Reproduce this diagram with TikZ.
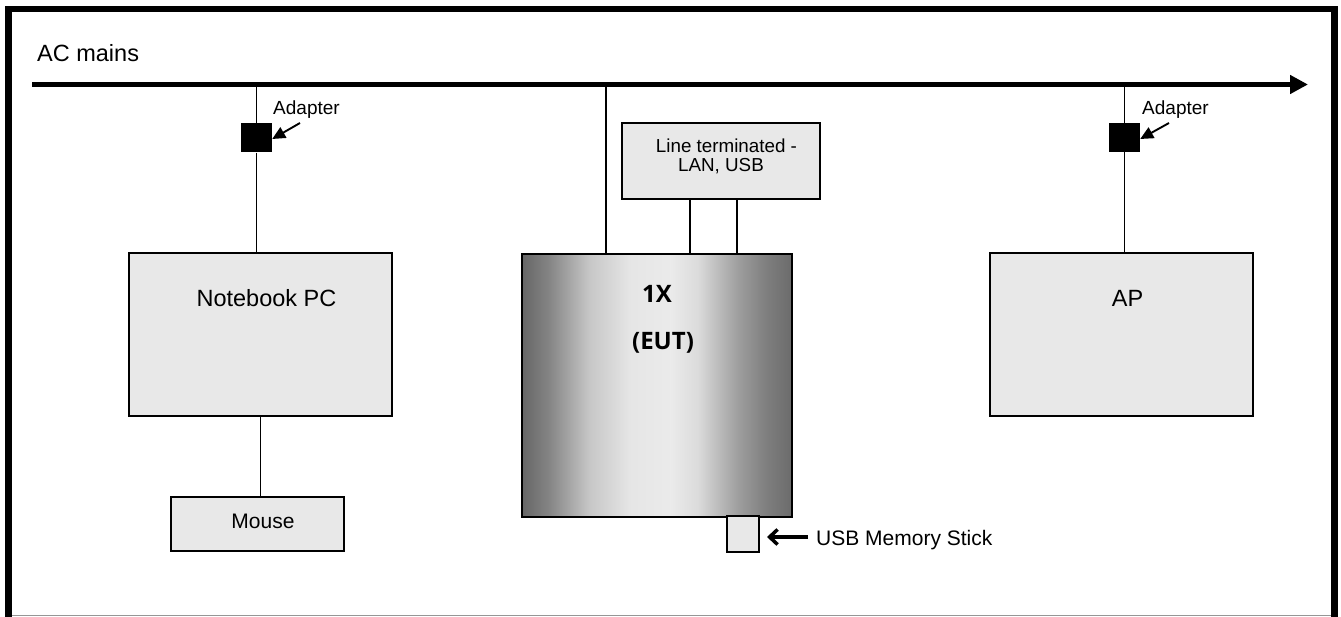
\documentclass[tikz,border=0pt]{standalone}
\usepackage{fontspec}
\setmainfont{Liberation Sans}
\newfontfamily\eutfont{Open Sans}
\usetikzlibrary{arrows.meta}
\definecolor{boxgray}{RGB}{232,232,232}
\definecolor{framegray}{RGB}{150,150,150}
\pgfdeclarehorizontalshading{eutshade}{100bp}{%
  rgb(0bp)=(0.40,0.40,0.40);
  rgb(25bp)=(0.40,0.40,0.40);
  rgb(30bp)=(0.52,0.52,0.52);
  rgb(37.5bp)=(0.78,0.78,0.78);
  rgb(45bp)=(0.90,0.90,0.90);
  rgb(52.5bp)=(0.92,0.92,0.92);
  rgb(57.5bp)=(0.86,0.86,0.86);
  rgb(65bp)=(0.62,0.62,0.62);
  rgb(70bp)=(0.50,0.50,0.50);
  rgb(75bp)=(0.42,0.42,0.42);
  rgb(100bp)=(0.42,0.42,0.42)}
\begin{document}
\begin{tikzpicture}[x=1pt,y=-1pt,
  box/.style={draw, line width=2pt, fill=boxgray, inner sep=0pt},
  eutbox/.style={draw, line width=2pt, shade, shading=eutshade, inner sep=0pt},
  wire/.style={line width=1.9pt},
  adapt/.style={fill=black, minimum width=31pt, minimum height=29pt, inner sep=0pt},
  lbl/.style={inner sep=0pt, anchor=base},
  fbig/.style={font=\fontsize{23.5}{24}\selectfont},
  fmid/.style={font=\fontsize{21}{22}\selectfont},
  fsmall/.style={font=\fontsize{19}{20}\selectfont},
  feut/.style={font=\eutfont\bfseries\fontsize{24}{24}\selectfont}]
\useasboundingbox (0,0) rectangle (1341,617);
% frame
\draw[framegray, line width=1.2pt] (8,615.8) -- (1334,615.8);
\draw[line width=6.5pt] (8.5,617) -- (8.5,9) -- (1334.5,9) -- (1334.5,617);
% boxes
\node[box, minimum width=263pt, minimum height=163pt] (pc) at (260.5,334.5) {};
\node[box, minimum width=173pt, minimum height=54pt] (mouse) at (257.5,524) {};
\node[box, minimum width=263pt, minimum height=163pt] (ap) at (1121.5,334.5) {};
\node[eutbox, minimum width=270pt, minimum height=263pt] (eut) at (657,385.5) {};
\node[box, minimum width=198pt, minimum height=76pt] (lt) at (721,161) {};
\node[box, minimum width=32pt, minimum height=36pt] (usb) at (743,534) {};
\node[adapt] (adL) at (256.5,138) {};
\node[adapt] (adR) at (1124.5,137.5) {};
% mains
\coordinate (mS) at (32,84.5);
\coordinate (mE) at (1308,84.5);
\coordinate (tapE) at (606,84.5);
\draw[line width=5pt, -{Triangle[length=18pt,width=18pt]}] (mS) -- (mE);
% wires
\draw[wire] (adL |- mS) -- (adL.north);
\draw[wire] (adL.south) -- (adL |- pc.north);
\draw[wire] (adR |- mS) -- (adR.north);
\draw[wire] (adR.south) -- (adR |- ap.north);
\draw[wire] (tapE) -- (tapE |- eut.north);
\draw[wire] ([xshift=-31pt]lt.south) -- ([xshift=-31pt]lt.south |- eut.north);
\draw[wire] ([xshift=16pt]lt.south) -- ([xshift=16pt]lt.south |- eut.north);
\draw[wire] (pc.south) -- (pc.south |- mouse.north);
% adapter arrows
\coordinate (aLt) at (300,123);
\coordinate (aRt) at (1169,123);
\draw[wire, -{Triangle[length=13pt,width=12pt]}] (aLt) -- ([yshift=-1pt]adL.east);
\draw[wire, -{Triangle[length=13pt,width=12pt]}] (aRt) -- ([yshift=-1.5pt]adR.east);
% usb arrow
\coordinate (usbT) at (808,537);
\draw[line width=3.5pt, -{Straight Barb[length=8pt,width=15pt]}] (usbT) -- ([xshift=7pt,yshift=-3pt]usb.east);
% texts
\node[lbl, anchor=base west, fbig] (tac) at (37,62) {AC mains};
\node[lbl, fbig] (tpc) at (266.5,307) {Notebook PC};
\node[lbl, fbig] (tap) at (1127.5,307) {AP};
\node[lbl, fmid] (tmo) at (263,528) {Mouse};
\node[lbl, anchor=base west, fsmall] (tadL) at (273,115) {Adapter};
\node[lbl, anchor=base west, fsmall] (tadR) at (1142,115) {Adapter};
\node[lbl, font=\fontsize{18.8}{20}\selectfont] (tlt1) at (726.5,152.5) {Line terminated -};
\node[lbl, font=\fontsize{18.8}{20}\selectfont] (tlt2) at (721,172) {LAN, USB};
\node[lbl, anchor=base west, fmid] (tusb) at (816,545) {USB Memory Stick};
\node[lbl, feut] (t1x) at (657,303) {1X};
\node[lbl, feut] (teut) at (663,350) {(EUT)};
\end{tikzpicture}
\end{document}
